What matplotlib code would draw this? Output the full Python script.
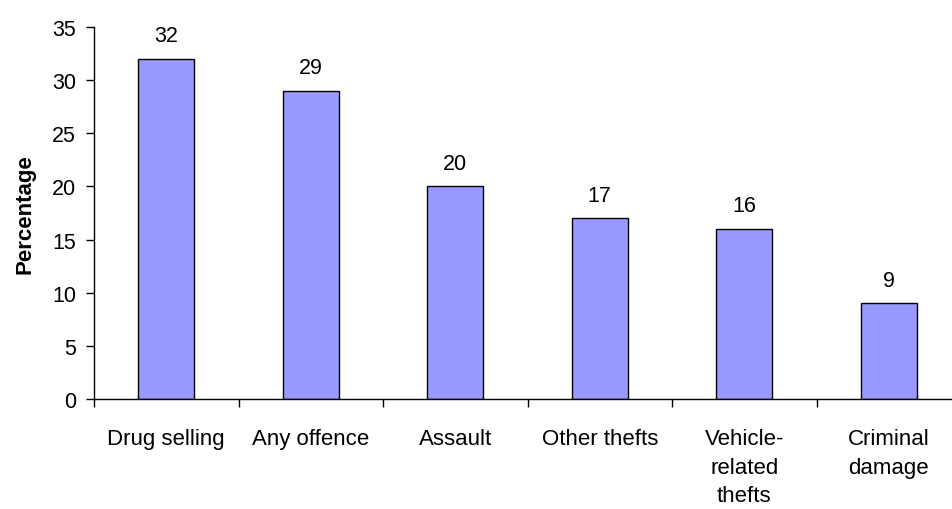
import matplotlib
matplotlib.use("Agg")
import matplotlib.pyplot as plt
import numpy as np

categories = ["Drug selling", "Any offence", "Assault", "Other thefts",
              "Vehicle-\nrelated\nthefts", "Criminal\ndamage"]
values = [32, 29, 20, 17, 16, 9]
yticks = [0, 5, 10, 15, 20, 25, 30, 35]

plt.rcParams["font.family"] = ["Liberation Sans", "DejaVu Sans"]

fig = plt.figure(figsize=(9.52, 5.10), dpi=100)
ax = fig.add_axes([94 / 952, 110 / 510, 6 * 144.5 / 952, 372 / 510])

x = np.arange(len(values)) + 0.5
bars = ax.bar(x, values, width=0.39, color="#9999FF", edgecolor="black",
              linewidth=1.0, zorder=2)

for xi, v in zip(x, values):
    ax.annotate(f"{v}", (xi, v), xytext=(0, 9), textcoords="offset points",
                ha="center", va="bottom", fontsize=15.5)

ax.set_xlim(0, len(values))
ax.set_ylim(0, 35)
ax.set_yticks(yticks)
ax.tick_params(axis="y", direction="out", length=6, width=1, pad=7,
               labelsize=15.5)

# category boundaries carry the tick marks, centres carry the labels
ax.set_xticks(np.arange(len(values) + 1))
ax.set_xticklabels([])
ax.set_xticks(x, minor=True)
ax.set_xticklabels(categories, minor=True, fontsize=16, linespacing=1.47,
                   va="top")
ax.tick_params(axis="x", which="major", direction="out", length=6, width=1)
ax.tick_params(axis="x", which="minor", length=0, pad=21)

for side in ("top", "right"):
    ax.spines[side].set_visible(False)
for side in ("left", "bottom"):
    ax.spines[side].set_linewidth(1)

ax.set_ylabel("Percentage", fontsize=16, fontweight="bold", labelpad=12)

fig.savefig("out.png", dpi=100)
